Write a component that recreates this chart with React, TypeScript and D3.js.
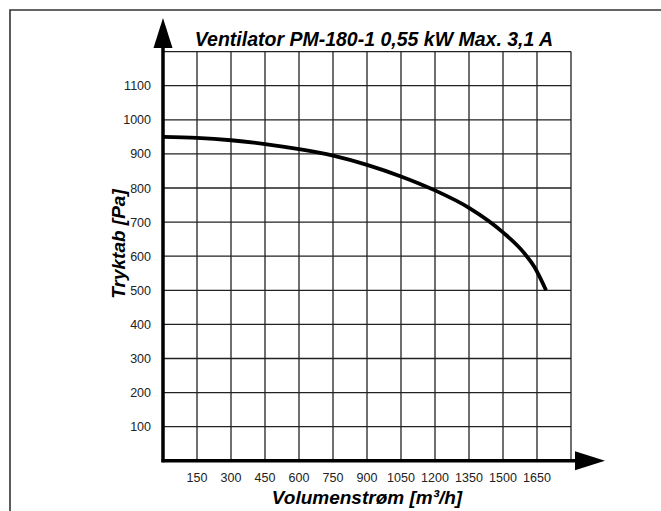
import React, { useRef, useEffect } from "react";
import * as d3 from "d3";

// fan curve: flow [m3/h] vs pressure [Pa]
const flow = [0, 150, 300, 450, 600, 750, 900, 1050, 1200, 1350, 1500, 1590, 1640, 1690];
const pressure = [950, 947, 940, 929, 914, 895, 868, 834, 793, 742, 670, 612, 567, 500];

const xTicks = [150, 300, 450, 600, 750, 900, 1050, 1200, 1350, 1500, 1650];
const yTicks = [100, 200, 300, 400, 500, 600, 700, 800, 900, 1000, 1100];

const title = "Ventilator PM-180-1 0,55 kW Max. 3,1 A";
const xTitle = "Volumenstrøm [m³/h]";
const yTitle = "Tryktab [Pa]";

const App = () => {
  const ref = useRef<SVGSVGElement>(null);

  useEffect(() => {
    const svg = d3.select(ref.current);
    svg.selectAll("*").remove();

    const width = 661;
    const height = 511;
    const font = "'Liberation Sans', Arial, sans-serif";

    svg.attr("width", width).attr("height", height);

    const x = d3.scaleLinear().domain([0, 1800]).range([163, 571]);
    const y = d3.scaleLinear().domain([0, 1200]).range([460.8, 51.6]);

    // outer frame (top and left edges only are visible)
    svg.append("path")
      .attr("d", `M10,${height} L10,10 L${width},10`)
      .attr("fill", "none")
      .attr("stroke", "#333")
      .attr("stroke-width", 1.6);

    // grid
    const grid = svg.append("g").attr("stroke", "#222").attr("stroke-width", 1.3);
    grid.selectAll(".v")
      .data(d3.range(150, 1801, 150))
      .enter()
      .append("line")
      .attr("x1", (d) => x(d))
      .attr("x2", (d) => x(d))
      .attr("y1", y(0))
      .attr("y2", y(1200));
    grid.selectAll(".h")
      .data(d3.range(100, 1201, 100))
      .enter()
      .append("line")
      .attr("x1", x(0))
      .attr("x2", x(1800))
      .attr("y1", (d) => y(d))
      .attr("y2", (d) => y(d));

    // axes with arrows
    svg.append("line")
      .attr("x1", x(0)).attr("x2", x(0))
      .attr("y1", y(0) + 1.5).attr("y2", 46)
      .attr("stroke", "#000").attr("stroke-width", 3.5);
    svg.append("line")
      .attr("x1", x(0) - 1.5).attr("x2", 577)
      .attr("y1", y(0)).attr("y2", y(0))
      .attr("stroke", "#000").attr("stroke-width", 3.5);
    svg.append("path")
      .attr("d", `M${x(0)},18 L${x(0) - 9.5},48 L${x(0) + 9.5},48 Z`)
      .attr("fill", "#000");
    svg.append("path")
      .attr("d", `M605,${y(0)} L575,${y(0) - 9.5} L575,${y(0) + 9.5} Z`)
      .attr("fill", "#000");

    // tick labels
    svg.append("g")
      .selectAll("text")
      .data(yTicks)
      .enter()
      .append("text")
      .attr("x", 151)
      .attr("y", (d) => y(d) + 4.5)
      .attr("text-anchor", "end")
      .attr("font-family", font)
      .attr("font-size", "12.5px")
      .attr("fill", "#222")
      .text((d) => d);
    svg.append("g")
      .selectAll("text")
      .data(xTicks)
      .enter()
      .append("text")
      .attr("x", (d) => x(d))
      .attr("y", 482)
      .attr("text-anchor", "middle")
      .attr("font-family", font)
      .attr("font-size", "12.5px")
      .attr("fill", "#222")
      .text((d) => d);

    // titles
    svg.append("text")
      .attr("x", 374)
      .attr("y", 46)
      .attr("text-anchor", "middle")
      .attr("font-family", font)
      .attr("font-size", "19.5px")
      .attr("font-weight", "bold")
      .attr("font-style", "italic")
      .text(title);
    svg.append("text")
      .attr("x", 367)
      .attr("y", 504)
      .attr("text-anchor", "middle")
      .attr("font-family", font)
      .attr("font-size", "19px")
      .attr("font-weight", "bold")
      .attr("font-style", "italic")
      .text(xTitle);
    svg.append("text")
      .attr("transform", "translate(125,244) rotate(-90)")
      .attr("text-anchor", "middle")
      .attr("font-family", font)
      .attr("font-size", "19px")
      .attr("font-weight", "bold")
      .attr("font-style", "italic")
      .text(yTitle);

    // fan curve
    const line = d3.line<number>()
      .x((d, i) => x(flow[i]))
      .y((d) => y(d))
      .curve(d3.curveMonotoneX);
    svg.append("path")
      .attr("d", line(pressure))
      .attr("fill", "none")
      .attr("stroke", "#000")
      .attr("stroke-width", 3.8);
  }, []);

  return (
    <svg ref={ref} style={{ position: "absolute", left: 0, top: 0, background: "#fff" }}></svg>
  );
};

export default App;
